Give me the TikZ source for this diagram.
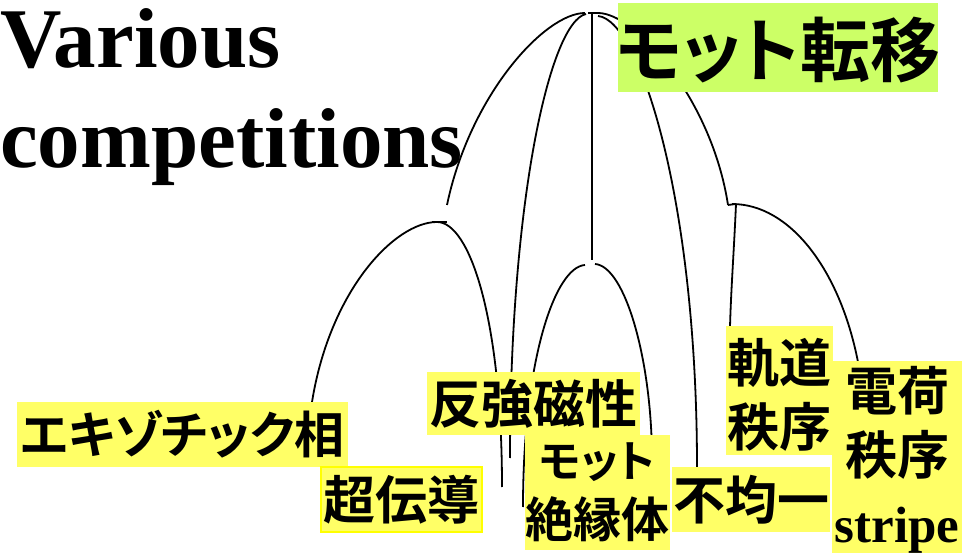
\documentclass[tikz,border=0pt]{standalone}
\usepackage{fontspec}
\newfontfamily\cjk{Noto Sans CJK JP}[RawFeature=+palt, BoldFont={Noto Sans CJK JP Bold}]
\newfontfamily\tnr{Liberation Serif}
\definecolor{grn}{RGB}{204,255,102}
\definecolor{yel}{RGB}{255,255,102}
\definecolor{yelb}{RGB}{255,255,0}
\begin{document}
\begin{tikzpicture}[x=1pt,y=-1pt,
  arc/.style={line width=1.8pt, black},
  box/.style={fill=yel, inner sep=0pt},
  txt/.style={inner sep=0pt, align=center},
  jp/.style={font=\cjk\bfseries\fontsize{#1}{64}\selectfont}]
\useasboundingbox (0,0) rectangle (962,553);
% named points
\coordinate (apexL) at (585,13);
\coordinate (apexB) at (586,14);
\coordinate (apexC) at (592,13);
\coordinate (apexR) at (598,13);
\coordinate (apexR1) at (598,16);
\coordinate (tickA1) at (588,13);
\coordinate (tickA2) at (600,13);
\coordinate (aEnd) at (447,205);
\coordinate (n1a) at (432,222);
\coordinate (n1b) at (447,222);
\coordinate (n1) at (437,222);
\coordinate (exoTop) at (312,402);
\coordinate (scTop) at (502,487);
\coordinate (bEnd) at (510,458);
\coordinate (cEnd) at (592,260);
\coordinate (miL) at (585,265);
\coordinate (miR) at (595,264);
\coordinate (miLend) at (523,507);
\coordinate (miRend) at (652,460);
\coordinate (e1End) at (697,467);
\coordinate (e2End) at (728,205);
\coordinate (n2L) at (736,204);
\coordinate (n2R) at (732,204);
\coordinate (orbTop) at (730,327);
\coordinate (chgTop) at (858,362);
% connectors
\draw[arc] (apexL) .. controls (545,13) and (470,95) .. (aEnd);
\draw[arc] (apexB) .. controls (550,22) and (510,200) .. (bEnd);
\draw[arc] (apexC) -- (cEnd);
\draw[arc] (tickA1) -- (tickA2);
\draw[arc] (apexR) .. controls (636,13) and (712,100) .. (e2End);
\draw[arc] (apexR1) .. controls (640,20) and (697,200) .. (e1End);
\draw[arc] (n1a) -- (n1b);
\draw[arc] (n1) .. controls (395,222) and (330,290) .. (exoTop);
\draw[arc] (n1) .. controls (470,222) and (502,320) .. (scTop);
\draw[arc] (miL) .. controls (555,267) and (523,360) .. (miLend);
\draw[arc] (miR) .. controls (625,266) and (652,360) .. (miRend);
\draw[arc] (e2End) -- (n2L);
\draw[arc] (n2L) .. controls (734,250) and (731,290) .. (orbTop);
\draw[arc] (n2R) .. controls (790,204) and (840,270) .. (chgTop);
% title
\node[anchor=base west, inner sep=0pt, font=\tnr\bfseries\fontsize{85}{100}\selectfont] (t1) at (0,68) {Various};
\node[anchor=base west, inner sep=0pt, font=\tnr\bfseries\fontsize{85}{100}\selectfont] (t2) at (0,168) {competitions};
% label boxes
\node[box, fill=grn, minimum width=320pt, minimum height=89pt] (mott) at (778,47.5) {};
\node[box, minimum width=331pt, minimum height=65pt] (exo) at (182.5,434.5) {};
\node[box, minimum width=213pt, minimum height=63pt] (af) at (533.5,403.5) {};
\node[box, draw=yelb, line width=1.5pt, minimum width=161pt, minimum height=65pt] (sc) at (401.5,499.5) {};
\node[box, minimum width=145pt, minimum height=115pt] (mi) at (597.5,492.5) {};
\node[box, minimum width=158pt, minimum height=65pt] (inh) at (751,499.5) {};
\node[box, minimum width=107pt, minimum height=129pt] (orb) at (779.5,390.5) {};
\node[box, minimum width=130pt, minimum height=192pt] (chg) at (897,457) {};
% label texts
\node[txt, jp=70] (mottT) at ([yshift=-3pt]mott.center) {モット転移};
\node[txt, jp=50] (exoT) at (exo.center) {エキゾチック相};
\node[txt, jp=52] (afT) at (af.center) {反強磁性};
\node[txt, jp=52] (scT) at (sc.center) {超伝導};
\node[txt, font=\cjk\bfseries\fontsize{48}{60}\selectfont] (miT) at (mi.center) {{\fontsize{44}{60}\selectfont モット}\\絶縁体};
\node[txt, jp=52] (inhT) at (inh.center) {不均一};
\node[txt, jp=52] (orbT) at ([yshift=-4pt]orb.center) {軌道\\秩序};
\node[txt, font=\cjk\bfseries\fontsize{52}{64}\selectfont] (chgT) at ([yshift=-3pt]chg.center) {電荷\\秩序\\[4pt]{\tnr\bfseries\fontsize{51}{64}\selectfont stripe}};
\end{tikzpicture}
\end{document}
